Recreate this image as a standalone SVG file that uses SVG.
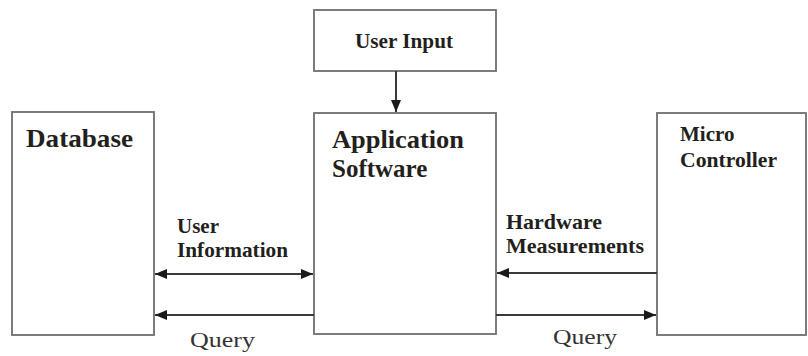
<svg xmlns="http://www.w3.org/2000/svg" width="808" height="356" viewBox="0 0 808 356">
  <style>
    .box { fill: #ffffff; stroke: #6e6e6e; stroke-width: 1.8; }
    .lbl { font-family: "Liberation Serif", "Times New Roman", serif; font-weight: bold; fill: #231f1c; }
    .big { font-size: 25px; }
    .mid { font-size: 21px; }
    .plain { font-family: "Liberation Serif", "Times New Roman", serif; font-size: 22px; fill: #333333; }
    .wire { stroke: #3a3a3a; stroke-width: 2; fill: none; }
  </style>
  <defs>
    <!-- filled triangular arrowhead shared by every connector -->
    <marker id="head" viewBox="0 0 12 10" refX="12" refY="5" markerWidth="12" markerHeight="10" markerUnits="userSpaceOnUse" orient="auto-start-reverse">
      <path d="M0,0 L12,5 L0,10 Z" fill="#1a1a1a"/>
    </marker>
  </defs>

  <rect width="808" height="356" fill="#ffffff"/>

  <g id="user-input">
    <rect class="box" x="314" y="10" width="182" height="61"/>
    <text class="lbl mid" x="355" y="48" textLength="98" lengthAdjust="spacingAndGlyphs">User Input</text>
  </g>

  <g id="database">
    <rect class="box" x="12" y="112" width="142" height="223"/>
    <text class="lbl big" x="26" y="147" textLength="107" lengthAdjust="spacingAndGlyphs">Database</text>
  </g>

  <g id="application-software">
    <rect class="box" x="314" y="113" width="182" height="221"/>
    <text class="lbl big" x="332" y="148" textLength="132" lengthAdjust="spacingAndGlyphs">Application</text>
    <text class="lbl big" x="332" y="177">Software</text>
  </g>

  <g id="micro-controller">
    <rect class="box" x="657" y="113" width="149" height="222"/>
    <text class="lbl mid" x="680" y="141">Micro</text>
    <text class="lbl mid" x="680" y="167" textLength="97" lengthAdjust="spacingAndGlyphs">Controller</text>
  </g>

  <g id="connectors">
    <line class="wire" x1="396" y1="71" x2="396" y2="112" marker-end="url(#head)"/>
    <line class="wire" x1="155" y1="274" x2="313" y2="274" marker-start="url(#head)" marker-end="url(#head)"/>
    <line class="wire" x1="314" y1="315" x2="155" y2="315" marker-end="url(#head)"/>
    <line class="wire" x1="657" y1="273" x2="497" y2="273" marker-end="url(#head)"/>
    <line class="wire" x1="496" y1="315" x2="656" y2="315" marker-end="url(#head)"/>

    <text class="lbl mid" x="177" y="233">User</text>
    <text class="lbl mid" x="177" y="257" textLength="111" lengthAdjust="spacingAndGlyphs">Information</text>
    <text class="plain" x="190" y="347" textLength="65" lengthAdjust="spacingAndGlyphs">Query</text>

    <text class="lbl mid" x="506" y="229" textLength="96" lengthAdjust="spacingAndGlyphs">Hardware</text>
    <text class="lbl mid" x="506" y="253" textLength="138" lengthAdjust="spacingAndGlyphs">Measurements</text>
    <text class="plain" x="553" y="344" textLength="64" lengthAdjust="spacingAndGlyphs">Query</text>
  </g>
</svg>
